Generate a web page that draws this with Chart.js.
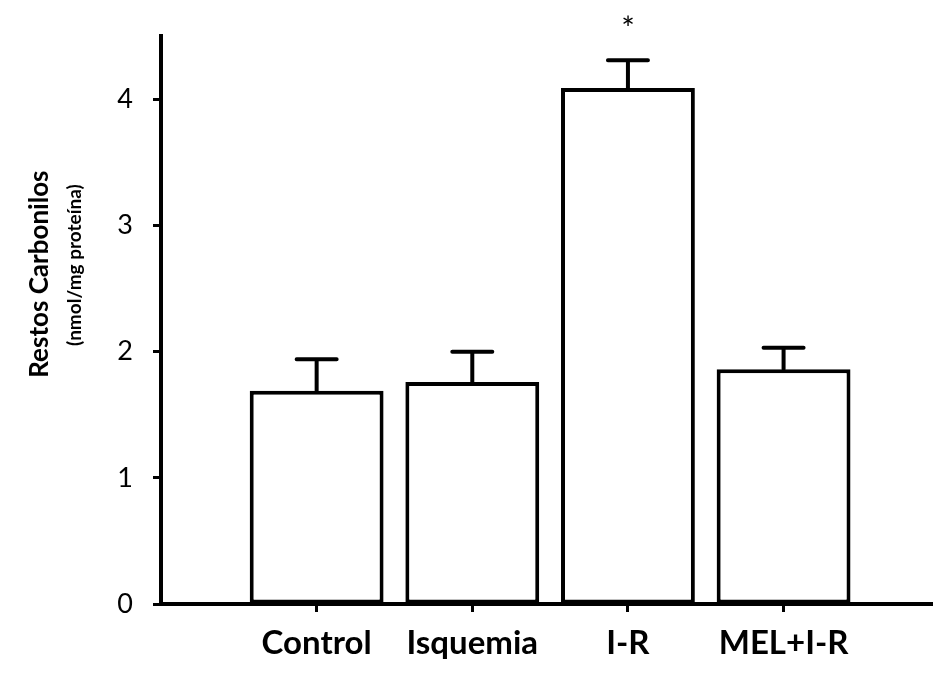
<!DOCTYPE html>
<html>
<head>
<meta charset="utf-8">
<script src="https://cdn.jsdelivr.net/npm/chart.js@4"></script>
<style>
  html, body { margin: 0; padding: 0; background: #fff; }
  #wrap { width: 933px; height: 673px; }
</style>
</head>
<body>
<div id="wrap"><canvas id="chart" width="933" height="673"></canvas></div>
<script>
// values
const categories = ["Control", "Isquemia", "I-R", "MEL+I-R"];
const means = [1.69, 1.76, 4.09, 1.86];
const errors = [0.25, 0.24, 0.22, 0.17];
const marks = ["", "", "*", ""];
const yTicks = [0, 1, 2, 3, 4];

const FONT = "Lato, 'Open Sans', sans-serif";

// error bars + significance marks
const errorBars = {
  id: "errorBars",
  afterDatasetsDraw(chart) {
    const ctx = chart.ctx;
    const y = chart.scales.y;
    const meta = chart.getDatasetMeta(0);
    ctx.save();
    ctx.strokeStyle = "#000";
    ctx.lineWidth = 4;
    ctx.lineCap = "round";
    meta.data.forEach((bar, i) => {
      const top = y.getPixelForValue(means[i] + errors[i]);
      ctx.beginPath();
      ctx.moveTo(bar.x, bar.y);
      ctx.lineTo(bar.x, top);
      ctx.moveTo(bar.x - 20, top);
      ctx.lineTo(bar.x + 20, top);
      ctx.stroke();
      if (marks[i]) {
        ctx.fillStyle = "#000";
        ctx.font = "32px " + FONT;
        ctx.textAlign = "center";
        ctx.textBaseline = "middle";
        ctx.fillText(marks[i], bar.x, 30);
      }
    });
    ctx.restore();
  }
};

// two-line y axis title with different sizes
const yTitle = {
  id: "yTitle",
  afterDraw(chart) {
    const ctx = chart.ctx;
    const cy = (chart.chartArea.top + chart.chartArea.bottom) / 2;
    ctx.save();
    ctx.fillStyle = "#000";
    ctx.textAlign = "center";
    ctx.textBaseline = "middle";
    ctx.translate(40, cy - 46);
    ctx.rotate(-Math.PI / 2);
    ctx.font = "bold 26px " + FONT;
    ctx.fillText("Restos Carbonilos", 0, 0);
    ctx.restore();
    ctx.save();
    ctx.fillStyle = "#000";
    ctx.textAlign = "center";
    ctx.textBaseline = "middle";
    ctx.translate(75, cy - 55);
    ctx.rotate(-Math.PI / 2);
    ctx.font = "bold 19px " + FONT;
    ctx.fillText("(nmol/mg proteína)", 0, 0);
    ctx.restore();
  }
};

new Chart(document.getElementById("chart"), {
  type: "bar",
  data: {
    datasets: [{
      data: means.map((v, i) => ({ x: i + 1, y: v })),
      backgroundColor: "#fff",
      borderColor: "#000",
      borderWidth: 4,
      borderSkipped: false,
      barPercentage: 0.86,
      categoryPercentage: 1
    }]
  },
  options: {
    responsive: false,
    animation: false,
    layout: { padding: 0 },
    plugins: {
      legend: { display: false },
      tooltip: { enabled: false }
    },
    scales: {
      x: {
        type: "linear",
        min: 0,
        max: 4.96,
        offset: false,
        afterFit(scale) { scale.height = 69; },
        afterBuildTicks(scale) {
          scale.ticks = categories.map((c, i) => ({ value: i + 1 }));
        },
        border: { color: "#000", width: 4 },
        grid: {
          offset: false,
          drawOnChartArea: false,
          drawTicks: true,
          tickLength: 8,
          tickColor: "#000",
          tickWidth: 3
        },
        ticks: {
          color: "#000",
          padding: 12,
          font: { family: FONT, size: 33, weight: "bold" },
          callback: v => categories[v - 1] || ""
        }
      },
      y: {
        min: 0,
        max: 4.5,
        afterFit(scale) { scale.width = 161; },
        afterBuildTicks(scale) {
          scale.ticks = yTicks.map(v => ({ value: v }));
        },
        border: { color: "#000", width: 4 },
        grid: {
          drawOnChartArea: false,
          drawTicks: true,
          tickLength: 8,
          tickColor: "#000",
          tickWidth: 3
        },
        ticks: {
          color: "#000",
          padding: 20,
          font: { family: FONT, size: 27 }
        }
      }
    }
  },
  plugins: [errorBars, yTitle]
});
</script>
</body>
</html>
